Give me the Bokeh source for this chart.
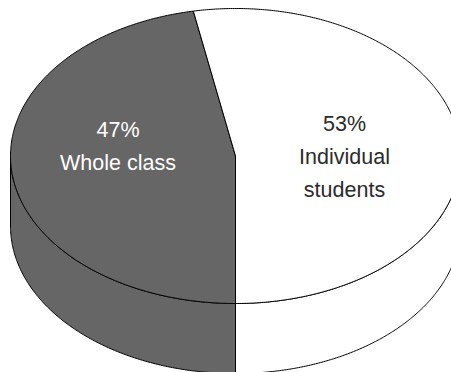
import numpy as np
from bokeh.plotting import figure
from bokeh.models import Range1d
from bokeh.core.properties import value
from bokeh.embed import file_html
from bokeh.resources import INLINE

# ---- data ----
categories = ["Whole class", "Individual students"]
shares = [47, 53]
pct_labels = ["47%", "53%"]
name_lines = [["Whole class"], ["Individual", "students"]]
slice_colors = ["#666666", "#ffffff"]
text_colors = ["#ffffff", "#2b2b2b"]

# ---- geometry (pixel-like units, y grows downward) ----
W, H = 451, 372
CX, CY = 235.0, 155.5
RX, RY = 225.0, 147.5
DEPTH = 70.0
START = 270.0  # front of the pie; slices go clockwise


def pt(theta_deg, dy=0.0):
    t = np.radians(theta_deg)
    return CX + RX * np.cos(t), CY - RY * np.sin(t) + dy


p = figure(width=W, height=H, x_range=Range1d(0, W), y_range=Range1d(H, 0),
           output_backend="svg", toolbar_location=None,
           x_axis_type=None, y_axis_type=None, min_border=0,
           background_fill_color="white", border_fill_color="white",
           outline_line_color=None)
p.xgrid.visible = False
p.ygrid.visible = False

# slice angle ranges (math angles, counterclockwise); clockwise from START
ranges = []
cur = START
for s in shares:
    span = 360.0 * s / sum(shares)
    ranges.append((cur - span, cur))
    cur -= span

# side walls (visible part: angles 180..360 mod 360)
side_xs, side_ys, side_cols = [], [], []
for (a0, a1), col in zip(ranges, slice_colors):
    for off in (-360.0, 0.0, 360.0):
        lo = max(a0, 180.0 + off)
        hi = min(a1, 360.0 + off)
        if hi - lo > 0.01:
            th = np.linspace(lo, hi, 200)
            tx, ty = pt(th)
            bx, by = pt(th[::-1], DEPTH)
            side_xs.append(list(np.concatenate([tx, bx])))
            side_ys.append(list(np.concatenate([ty, by])))
            side_cols.append(col)
p.patches(xs=side_xs, ys=side_ys, fill_color=side_cols,
          line_color="black", line_width=1.0)

# top faces
top_xs, top_ys = [], []
for (a0, a1) in ranges:
    th = np.linspace(a0, a1, 400)
    ax, ay = pt(th)
    top_xs.append([CX] + list(ax))
    top_ys.append([CY] + list(ay))
p.patches(xs=top_xs, ys=top_ys, fill_color=slice_colors,
          line_color="black", line_width=1.0)

# labels
label_pos = [(117.5, 129.5), (344.0, 123.0)]
LINE_H = 33.0
for (lx, ly), pl, nl, tc in zip(label_pos, pct_labels, name_lines, text_colors):
    lines = [pl] + nl
    p.text(x=[lx] * len(lines), y=[ly + i * LINE_H for i in range(len(lines))],
           text=lines, text_color=tc, text_font=value("Liberation Sans"),
           text_font_size="21.5px", text_align="center",
           text_baseline="alphabetic")

open("out.html", "w").write(file_html(p, INLINE))
